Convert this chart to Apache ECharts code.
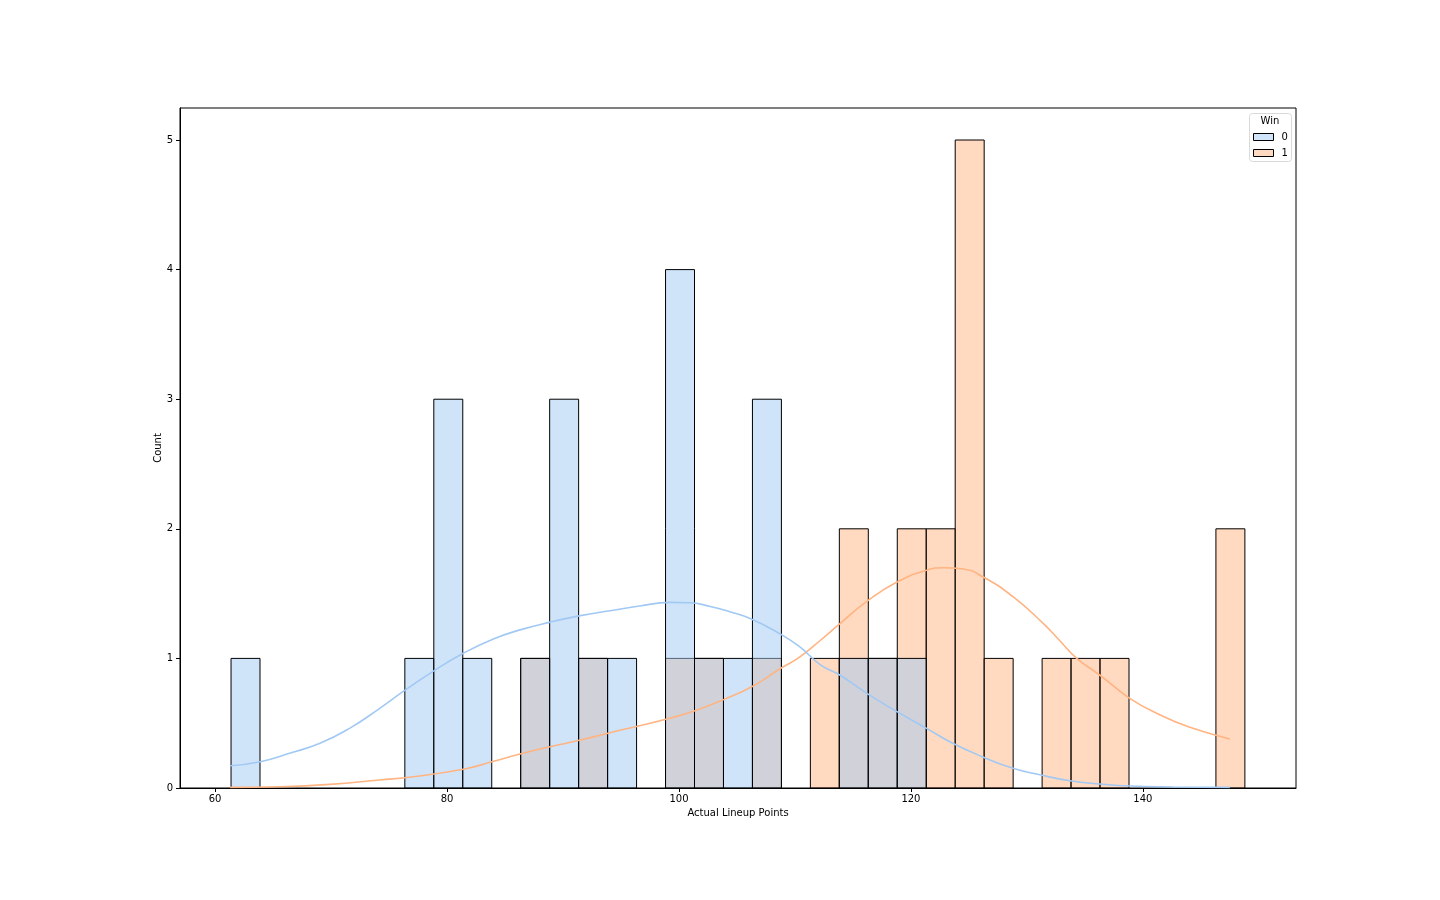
<!DOCTYPE html>
<html>
<head>
<meta charset="utf-8">
<script src="https://cdn.jsdelivr.net/npm/echarts@6/dist/echarts.min.js"></script>
<style>html,body{margin:0;padding:0;background:#fff;}#chart{width:1440px;height:900px;}</style>
</head>
<body>
<div id="chart"></div>
<script>
// Histogram bins (35 bins)
const binStart = 61.38;
const binWidth = 2.4975;
const countsWin0 = [1,0,0,0,0,0,1,3,1,0,1,3,1,1,0,4,1,1,3,0,0,1,1,1,0,0,0,0,0,0,0,0,0,0,0];
const countsWin1 = [0,0,0,0,0,0,0,0,0,0,1,0,1,0,0,1,1,0,1,0,1,2,1,2,2,5,1,0,1,1,1,0,0,0,2];
// KDE curves [x, count-scaled density]
const kdeWin0 = [[61.3,0.172],[63.9,0.203],[66.5,0.27],[69.05,0.345],[71.6,0.46],[74.2,0.615],[76.2,0.743],[78.8,0.90],[81.4,1.04],[84.0,1.15],[86.3,1.22],[88.9,1.28],[91.5,1.33],[94.05,1.368],[96.6,1.404],[99.2,1.432],[100.9,1.43],[102.7,1.40],[104.4,1.36],[106.1,1.31],[108.7,1.19],[110.4,1.09],[112.2,0.95],[113.9,0.87],[116.2,0.73],[118.8,0.589],[121.35,0.46],[123.6,0.345],[126.2,0.24],[128.8,0.152],[131.2,0.10],[133.7,0.056],[136.3,0.031],[138.9,0.015],[142.6,0.008],[147.5,0.005]];
const kdeWin1 = [[61.3,0.005],[65.6,0.01],[69.9,0.028],[74.2,0.062],[77.1,0.087],[81.4,0.144],[83.7,0.198],[86.3,0.262],[88.9,0.319],[91.5,0.37],[94.05,0.427],[96.6,0.481],[99.2,0.538],[101.5,0.60],[103.8,0.68],[106.4,0.787],[108.7,0.92],[110.4,1.01],[112.2,1.14],[113.9,1.27],[116.2,1.44],[118.8,1.59],[121.35,1.68],[122.8,1.70],[124.5,1.69],[126.2,1.63],[128.8,1.476],[131.4,1.27],[132.8,1.14],[134.3,1.0],[136.3,0.87],[138.9,0.69],[141.5,0.563],[144.05,0.468],[147.5,0.378]];
const xTicks = [60,80,100,120,140];
const yTicks = [0,1,2,3,4,5];
const seriesNames = ['0','1'];
const legendTitle = 'Win';
const xLabel = 'Actual Lineup Points';
const yLabel = 'Count';

const FONT = 'DejaVu Sans';
const fill0 = 'rgba(161,201,244,0.5)';
const fill1 = 'rgba(255,180,130,0.5)';
const line0 = '#a1c9f4';
const line1 = '#ffb482';

function binsData(counts){
  const out = [];
  counts.forEach((c,i)=>{ if(c>0){ const x0 = binStart + i*binWidth; out.push([x0, x0+binWidth, c]); } });
  return out;
}
function renderBar(fill){
  return function(params, api){
    const p0 = api.coord([api.value(0), api.value(2)]);
    const p1 = api.coord([api.value(1), 0]);
    return {
      type:'rect',
      shape:{x:p0[0], y:p0[1], width:p1[0]-p0[0], height:p1[1]-p0[1]},
      style:{fill:fill, stroke:'#000', lineWidth:1}
    };
  };
}

const chart = echarts.init(document.getElementById('chart'), null, {renderer:'canvas'});
chart.setOption({
  animation:false,
  textStyle:{fontFamily:FONT},
  grid:{left:180, top:108, width:1116, height:680, show:true, borderColor:'#000', borderWidth:1, backgroundColor:'transparent'},
  xAxis:{
    type:'value', min:56.98, max:153.2,
    name:xLabel, nameLocation:'middle', nameGap:19,
    nameTextStyle:{fontFamily:FONT, fontSize:10, color:'#000'},
    axisLine:{show:true, onZero:false, lineStyle:{color:'#000', width:1}},
    axisTick:{show:true, inside:false, length:4, customValues:xTicks, lineStyle:{color:'#000'}},
    axisLabel:{show:true, customValues:xTicks, margin:6, fontFamily:FONT, fontSize:10, color:'#000'},
    splitLine:{show:false}
  },
  yAxis:{
    type:'value', min:0, max:5.247,
    name:yLabel, nameLocation:'middle', nameGap:17, nameRotate:90, nameMoveOverlap:false,
    nameTextStyle:{fontFamily:FONT, fontSize:10, color:'#000'},
    axisLine:{show:true, lineStyle:{color:'#000', width:1}},
    axisTick:{show:true, inside:false, length:4, customValues:yTicks, lineStyle:{color:'#000'}},
    axisLabel:{show:true, customValues:yTicks, margin:7, fontFamily:FONT, fontSize:10, color:'#000'},
    splitLine:{show:false}
  },
  legend:{
    orient:'vertical', left:1248, top:127, itemWidth:20, itemHeight:7, itemGap:6,
    textStyle:{fontFamily:FONT, fontSize:10, color:'#000', padding:[0,0,0,3]},
    data:[
      {name:seriesNames[0], icon:'rect', itemStyle:{color:'#d0e4fa', borderColor:'#000', borderWidth:1}},
      {name:seriesNames[1], icon:'rect', itemStyle:{color:'#ffdac1', borderColor:'#000', borderWidth:1}}
    ],
    selectedMode:false
  },
  graphic:[
    {type:'rect', left:1249, top:113, z:0, shape:{width:42, height:48, r:3}, style:{fill:'#fff', stroke:'#d9d9d9', lineWidth:1}},
    {type:'text', x:1270, y:121, z:1, style:{text:legendTitle, font:'10px "DejaVu Sans"', fill:'#000', align:'center', verticalAlign:'middle'}}
  ],
  series:[
    {name:seriesNames[1], type:'custom', renderItem:renderBar(fill1), data:binsData(countsWin1), encode:{x:[0,1], y:2}, z:2, itemStyle:{color:'#ffdac1'}},
    {name:seriesNames[0], type:'custom', renderItem:renderBar(fill0), data:binsData(countsWin0), encode:{x:[0,1], y:2}, z:3, itemStyle:{color:'#d0e4fa'}},
    {name:'kde1', type:'line', data:kdeWin1, smooth:true, showSymbol:false, symbol:'none', lineStyle:{color:line1, width:1.6}, z:4},
    {name:'kde0', type:'line', data:kdeWin0, smooth:true, showSymbol:false, symbol:'none', lineStyle:{color:line0, width:1.6}, z:4}
  ]
});
</script>
</body>
</html>
